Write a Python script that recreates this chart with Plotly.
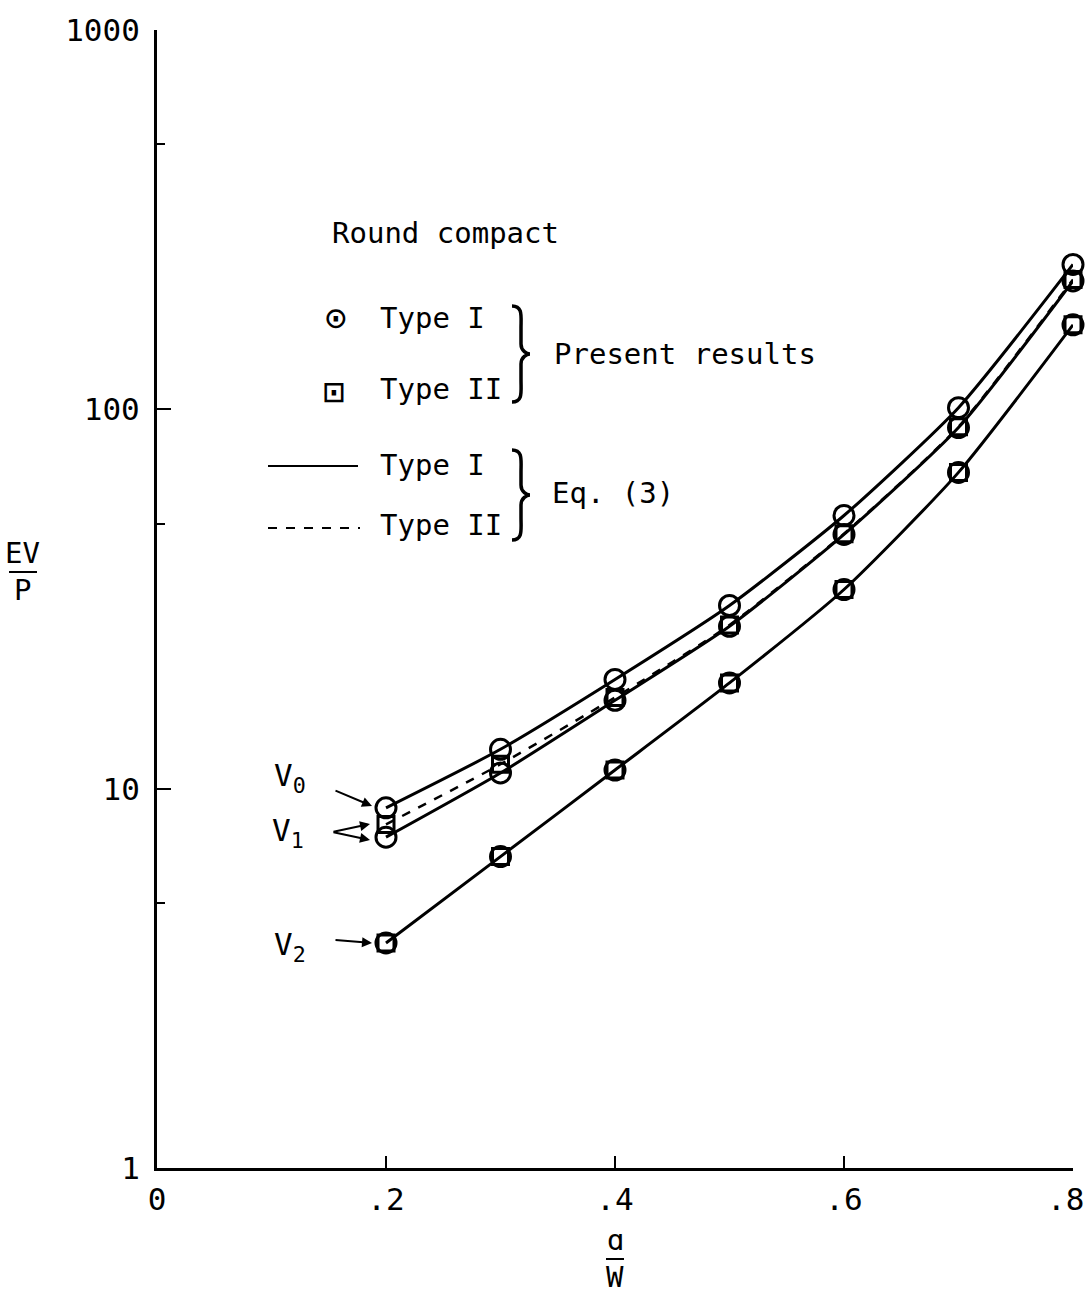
import plotly.graph_objects as go

# ---- data ----
a_over_w = [0.2, 0.3, 0.4, 0.5, 0.6, 0.7, 0.8]
v0_type1 = [8.9, 12.7, 19.4, 30.4, 52.5, 101, 241]
v1_type1 = [7.45, 11.0, 17.1, 26.8, 46.8, 89.5, 218]
v1_type2 = [8.05, 11.6, 17.4, 27.0, 47.0, 90.0, 220]
v2_type1 = [3.92, 6.62, 11.2, 19.0, 33.5, 68.2, 167]
v2_type2 = [3.92, 6.62, 11.2, 19.0, 33.5, 68.2, 167]

x_tickvals = [0, 0.2, 0.4, 0.6, 0.8]
x_ticktext = ["0", ".2", ".4", ".6", ""]  # last label drawn as annotation (edge)
x_last_label = ".8"
y_tickvals = [1, 10, 100, 1000]
y_ticktext = ["1", "10", "100", "1000"]
y_minor = [5, 50, 500]

FONT = "DejaVu Sans Mono"
FS = 29
W, H = 1087, 1298
L, R, T, B = 157, 14, 30, 130
PW, PH = W - L - R, H - T - B


def px(xp):
    return (xp - L) / PW


def py(yp):
    return (H - B - yp) / PH


fig = go.Figure()

line_style = dict(color="black", width=3, shape="spline", smoothing=0.6)
# Eq. (3) curves
fig.add_trace(go.Scatter(x=a_over_w, y=v0_type1, mode="lines", line=line_style, showlegend=False))
fig.add_trace(go.Scatter(x=a_over_w, y=v1_type1, mode="lines", line=line_style, showlegend=False))
fig.add_trace(go.Scatter(x=a_over_w, y=v1_type2, mode="lines",
                         line=dict(color="black", width=2.5, dash="dash", shape="spline", smoothing=0.6),
                         showlegend=False))
fig.add_trace(go.Scatter(x=a_over_w, y=v2_type1, mode="lines", line=line_style, showlegend=False))

circ = dict(symbol="circle-open", size=20, color="black", line=dict(width=3, color="black"))
sq = dict(symbol="square-open", size=16, color="black", line=dict(width=3, color="black"))
for ys in (v0_type1, v1_type1, v2_type1):
    fig.add_trace(go.Scatter(x=a_over_w, y=ys, mode="markers", marker=circ,
                             cliponaxis=False, showlegend=False))
for ys in (v1_type2, v2_type2):
    fig.add_trace(go.Scatter(x=a_over_w, y=ys, mode="markers", marker=sq,
                             cliponaxis=False, showlegend=False))

ann = []


def text(xp, yp, s, size=FS, xanchor="left"):
    ann.append(dict(x=px(xp), y=py(yp), xref="paper", yref="paper", text=s, showarrow=False,
                    xanchor=xanchor, yanchor="middle", font=dict(family=FONT, size=size, color="black")))


# legend block
text(330, 233, "Round compact")
text(336, 318, "⊙", size=36, xanchor="center")
text(334, 391, "⊡", size=36, xanchor="center")
text(378, 318, "Type I")
text(378, 389, "Type II")
text(552, 354, "Present results")
text(378, 465, "Type I")
text(378, 525, "Type II")
text(550, 493, "Eq. (3)")

# curve labels
text(290, 778, "V<sub>0</sub>", size=31, xanchor="center")
text(288, 832, "V<sub>1</sub>", size=31, xanchor="center")
text(290, 946, "V<sub>2</sub>", size=31, xanchor="center")

# axis titles
text(22, 553, "EV", xanchor="center")
text(22, 590, "P", xanchor="center")
text(615, 1240, "ɑ", xanchor="center")
text(615, 1277, "W", xanchor="center")

# last x tick label, kept inside the page
text(1086, 1199, x_last_label, size=31, xanchor="right")


def arrow(x0, y0, x1, y1):
    ann.append(dict(x=px(x1), y=py(y1), xref="paper", yref="paper",
                    ax=x0 - x1, ay=y0 - y1, axref="pixel", ayref="pixel",
                    text="", showarrow=True, arrowhead=2, arrowsize=1, arrowwidth=2,
                    arrowcolor="black", standoff=0, startstandoff=0))


arrow(334, 790, 372, 806)
arrow(332, 832, 370, 824)
arrow(332, 832, 370, 840)
arrow(334, 940, 372, 943)


def brace(xl, ytop, ybot, xr):
    ym = (ytop + ybot) / 2
    xmid = xl + (xr - xl) * 0.5
    pts = [
        ("M", [(xl, ytop)]),
        ("C", [(xmid + 2, ytop), (xmid, ytop + 10), (xmid, ytop + 22)]),
        ("L", [(xmid, ym - 10)]),
        ("C", [(xmid, ym - 3), (xr - 3, ym), (xr, ym)]),
        ("C", [(xr - 3, ym), (xmid, ym + 3), (xmid, ym + 10)]),
        ("L", [(xmid, ybot - 22)]),
        ("C", [(xmid, ybot - 10), (xmid + 2, ybot), (xl, ybot)]),
    ]
    s = ""
    for cmd, cs in pts:
        s += cmd + " " + " ".join(f"{px(a):.5f},{py(b):.5f}" for a, b in cs) + " "
    return dict(type="path", xref="paper", yref="paper", path=s.strip(),
                line=dict(color="black", width=3.5))


shapes = [
    dict(type="line", xref="paper", yref="paper", x0=px(268), x1=px(358), y0=py(466), y1=py(466),
         line=dict(color="black", width=2)),
    dict(type="line", xref="paper", yref="paper", x0=px(268), x1=px(360), y0=py(528), y1=py(528),
         line=dict(color="black", width=2, dash="dash")),
    dict(type="line", xref="paper", yref="paper", x0=px(9), x1=px(37), y0=py(572), y1=py(572),
         line=dict(color="black", width=2)),
    dict(type="line", xref="paper", yref="paper", x0=px(606), x1=px(624), y0=py(1259), y1=py(1259),
         line=dict(color="black", width=2)),
    brace(512, 306, 402, 530),
    brace(512, 450, 540, 530),
]

fig.update_layout(
    width=W, height=H,
    margin=dict(l=L, r=R, t=T, b=B, autoexpand=False),
    paper_bgcolor="white", plot_bgcolor="white",
    showlegend=False,
    annotations=ann, shapes=shapes,
    font=dict(family=FONT, size=FS, color="black"),
    xaxis=dict(range=[0, 0.8], tickvals=x_tickvals, ticktext=x_ticktext, ticks="inside",
               ticklen=12, tickwidth=2, tickcolor="black", showline=True, linecolor="black",
               linewidth=3, showgrid=False, zeroline=False, ticklabelstandoff=2,
               ticklabeloverflow="allow", tickfont=dict(size=31), automargin=False),
    yaxis=dict(type="log", range=[0, 3], tickvals=y_tickvals, ticktext=y_ticktext, ticks="inside",
               ticklen=14, tickwidth=2, tickcolor="black", showline=True, linecolor="black",
               linewidth=3, showgrid=False, zeroline=False, ticklabelstandoff=8,
               tickfont=dict(size=31), automargin=False,
               minor=dict(tickvals=y_minor, ticks="inside", ticklen=8, tickwidth=2, tickcolor="black")),
)

fig.write_html("out.html")
